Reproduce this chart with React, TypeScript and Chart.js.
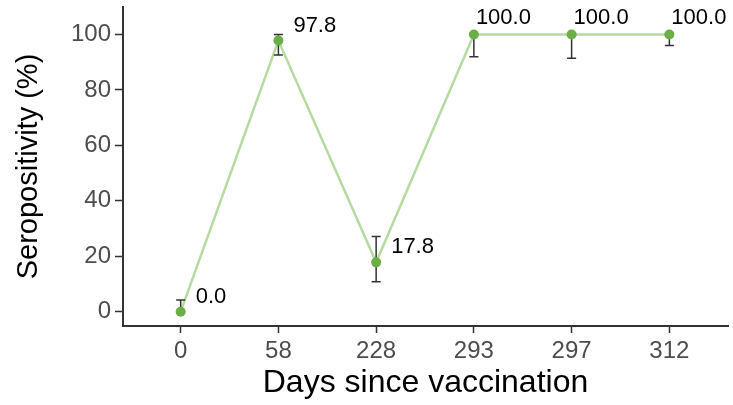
import React, { useEffect, useRef } from "react";
import { Chart, registerables } from "chart.js";

Chart.register(...registerables);

// Days since vaccination (equally spaced categories)
const categories = ["0", "58", "228", "293", "297", "312"];
// Seropositivity (%) with 95% CI bounds
const seropositivity = [0.0, 97.8, 17.8, 100.0, 100.0, 100.0];
const ciLower = [0.0, 92.6, 10.8, 92.0, 91.4, 96.0];
const ciUpper = [4.2, 100.0, 27.1, 100.0, 100.0, 100.0];
const yTicks = [0, 20, 40, 60, 80, 100];

const FONT = "'Liberation Sans', Arial, Helvetica, sans-serif";

const errorBarsAndLabels = {
  id: "errorBarsAndLabels",
  afterDatasetDraw(chart: any, args: any) {
    if (args.index !== 0) return;
    const { ctx } = chart;
    const xs = chart.scales.x;
    const ys = chart.scales.y;
    ctx.save();
    ctx.strokeStyle = "#333333";
    ctx.lineWidth = 1.5;
    const cap = 4.5;
    seropositivity.forEach((_, i) => {
      const x = xs.getPixelForValue(i);
      const yl = ys.getPixelForValue(ciLower[i]);
      const yu = ys.getPixelForValue(ciUpper[i]);
      ctx.beginPath();
      ctx.moveTo(x, yl);
      ctx.lineTo(x, yu);
      ctx.moveTo(x - cap, yl);
      ctx.lineTo(x + cap, yl);
      ctx.moveTo(x - cap, yu);
      ctx.lineTo(x + cap, yu);
      ctx.stroke();
    });
    ctx.restore();
  },
  afterDatasetsDraw(chart: any) {
    const { ctx } = chart;
    const xs = chart.scales.x;
    const ys = chart.scales.y;
    ctx.save();
    ctx.font = `22px ${FONT}`;
    ctx.fillStyle = "#000000";
    ctx.textAlign = "left";
    ctx.textBaseline = "middle";
    seropositivity.forEach((v, i) => {
      const x = xs.getPixelForValue(i);
      const y = ys.getPixelForValue(v);
      const hasUpper = ciUpper[i] > v;
      const dx = hasUpper ? 15 : 2;
      const dy = hasUpper ? -15 : -17;
      ctx.fillText(v.toFixed(1), x + dx, y + dy);
    });
    ctx.restore();
  },
};

export default function App() {
  const canvasRef = useRef<HTMLCanvasElement | null>(null);

  useEffect(() => {
    if (!canvasRef.current) return;
    const points = seropositivity.map((v, i) => ({ x: i, y: v }));
    const chart = new Chart(canvasRef.current, {
      type: "line",
      data: {
        datasets: [
          {
            data: points,
            borderColor: "#b6dba1",
            borderWidth: 2.5,
            pointRadius: 0,
            tension: 0,
            order: 2,
          },
          {
            data: points,
            showLine: false,
            pointRadius: 5,
            pointBackgroundColor: "#6aae45",
            pointBorderColor: "#6aae45",
            pointBorderWidth: 0,
            order: 1,
          },
        ],
      },
      options: {
        responsive: false,
        animation: false,
        devicePixelRatio: 1,
        layout: { padding: { top: 7, right: 3, left: 0, bottom: 0 } },
        plugins: {
          legend: { display: false },
          tooltip: { enabled: false },
        },
        scales: {
          x: {
            type: "linear",
            min: -0.59,
            max: 5.6,
            afterBuildTicks: (axis: any) => {
              axis.ticks = categories.map((_, i) => ({ value: i }));
            },
            afterFit: (axis: any) => {
              axis.height = 79;
              axis.paddingLeft = 0;
              axis.paddingRight = 0;
            },
            grid: {
              display: true,
              drawOnChartArea: false,
              drawTicks: true,
              tickLength: 7,
              tickWidth: 1.5,
              color: "#333333",
            },
            border: { display: true, color: "#333333", width: 2 },
            ticks: {
              color: "#4d4d4d",
              font: { family: FONT, size: 24 },
              padding: 4,
              maxRotation: 0,
              autoSkip: false,
              callback: (value: any) => categories[Math.round(value)] ?? "",
            },
            title: {
              display: true,
              text: "Days since vaccination",
              color: "#000000",
              font: { family: FONT, size: 32 },
              padding: { top: 0, bottom: 3 },
            },
          },
          y: {
            type: "linear",
            min: -5.16,
            max: 109.9,
            afterBuildTicks: (axis: any) => {
              axis.ticks = yTicks.map((v) => ({ value: v }));
            },
            afterFit: (axis: any) => {
              axis.width = 123;
              axis.paddingTop = 0;
              axis.paddingBottom = 0;
            },
            grid: {
              display: true,
              drawOnChartArea: false,
              drawTicks: true,
              tickLength: 8,
              tickWidth: 1.5,
              color: "#333333",
            },
            border: { display: true, color: "#333333", width: 2 },
            ticks: {
              color: "#4d4d4d",
              font: { family: FONT, size: 24 },
              padding: 4,
            },
            title: {
              display: true,
              text: "Seropositivity (%)",
              color: "#000000",
              font: { family: FONT, size: 29 },
              padding: { top: 12, bottom: 0 },
            },
          },
        },
      },
      plugins: [errorBarsAndLabels],
    });
    return () => chart.destroy();
  }, []);

  return (
    <div style={{ position: "absolute", left: 0, top: 0, width: 733, height: 405, background: "#ffffff" }}>
      <canvas ref={canvasRef} width={733} height={405} />
    </div>
  );
}
